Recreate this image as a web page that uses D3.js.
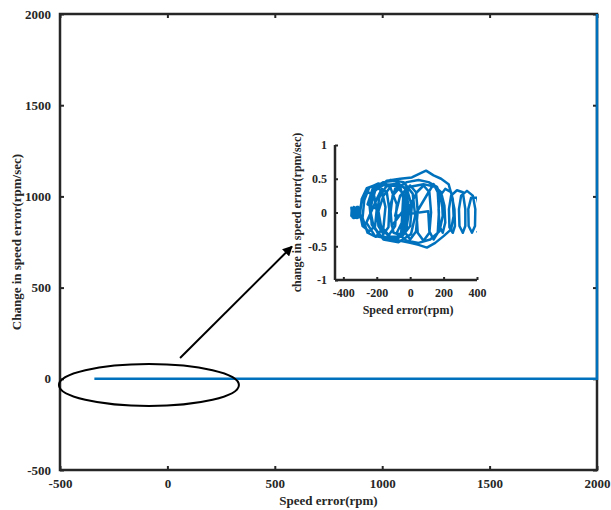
<!DOCTYPE html>
<html>
<head>
<meta charset="utf-8">
<script src="https://cdn.jsdelivr.net/npm/d3@7"></script>
<style>
  body { margin: 0; background: #fff; }
  text { font-family: "Liberation Serif", "Times New Roman", serif; font-weight: bold; fill: #262626; }
</style>
</head>
<body>
<svg id="svg" width="611" height="510"></svg>
<script>
// main plot data
const mainX = [-340, 2000, 2000];
const mainY = [0, 0, 2000];
const mainTicksX = [-500, 0, 500, 1000, 1500, 2000];
const mainTicksY = [-500, 0, 500, 1000, 1500, 2000];

// inset (zoomed) phase trajectory
const insetX = [
  -345, -330, -315, -325, -345, -335, -305, -310, -340, -350,
  -350, -340, -320, -300, -330, -348, -315, -305, -335, -345,
  -352, -345, -338, -332, -325, -318, -312, -306, -300, -306, -314, -322, -330, -338, -346, -352,
  -350, -343, -336, -328, -320, -312, -304, -310, -318, -326, -334, -342,
  -300, -285, -250, -215, -200, -210, -245, -285, -300,
  -290, -260, -215, -170, -148, -160, -205, -255, -285,
  -275, -245, -190, -120, -80, -90, -140, -210, -262,
  -200, -170, -140, -125, -130, -160, -190, -198,
  -255, -225, -160, -90, -30, -5, -25, -90, -170, -230,
  -240, -215, -150, -80, -25, -15, -40, -110, -190, -235,
  -245, -200, -120, -40, 15, 30, 5, -70, -160, -220,
  -240, -210, -140, -60, 10, 60, 95, 140, 185, 230, 255, 260, 245, 200, 150, 100, 50, 0, -60, -130, -180, -195,
  -185, -140, -80, -20, 10, 0, -50, -120, -175, -190,
  -160, -110, -60, -35, -35, -60, -100, -120, -105, -70, -40, -20, -25, -55,
  -40, 0, 35, 45, 35, 0, -35, -45,
  -110, -120, -90, -20, 50, 110, 160, 190, 195, 175, 120, 50, -20, -80,
  40, 80, 115, 125, 115, 80, 45, 38,
  110, 140, 165, 172, 165, 140, 115, 108,
  -90, -60, 0, 80, 150, 185, 205, 210, 195, 175, 170, 180, 210, 245, 265, 268, 255, 235,
  232, 245, 280, 315, 330, 330, 315, 295, 292, 305, 340, 375, 390, 388, 370, 350,
  348, 365, 400, 420, 415, 400
];
const insetY = [
  0.02, 0.07, 0.03, -0.06, -0.04, 0.06, 0.05, -0.05, -0.07, 0.0,
  0.05, -0.08, 0.08, -0.06, 0.05, -0.05, -0.08, 0.07, 0.04, -0.03,
  0.07, -0.07, 0.08, -0.08, 0.07, -0.07, 0.08, -0.07, 0.06, -0.06, 0.08, -0.08, 0.07, -0.08, 0.06, -0.05,
  0.04, -0.04, 0.05, -0.05, 0.04, -0.04, 0.03, -0.03, 0.05, -0.05, 0.03, -0.02,
  0.05, 0.22, 0.30, 0.24, 0.05, -0.20, -0.28, -0.20, -0.02,
  0.20, 0.36, 0.40, 0.32, 0.08, -0.22, -0.36, -0.30, -0.08,
  0.18, 0.37, 0.43, 0.38, 0.12, -0.20, -0.38, -0.35, -0.15,
  0.20, 0.35, 0.30, 0.05, -0.22, -0.32, -0.20, 0.05,
  0.12, 0.35, 0.45, 0.47, 0.35, 0.05, -0.28, -0.42, -0.37, -0.18,
  0.10, 0.33, 0.42, 0.40, 0.22, -0.05, -0.30, -0.40, -0.33, -0.10,
  0.15, 0.38, 0.48, 0.45, 0.28, -0.05, -0.32, -0.44, -0.40, -0.20,
  0.05, 0.32, 0.47, 0.50, 0.52, 0.58, 0.62, 0.55, 0.50, 0.42, 0.20, -0.05, -0.25, -0.35, -0.45, -0.52, -0.48, -0.45, -0.42, -0.35, -0.20, 0.05,
  0.22, 0.40, 0.43, 0.35, 0.10, -0.20, -0.36, -0.36, -0.20, 0.02,
  0.25, 0.40, 0.38, 0.15, -0.15, -0.33, -0.30, -0.05, 0.25, 0.35, 0.28, 0.05, -0.20, -0.35,
  0.30, 0.40, 0.30, 0.02, -0.28, -0.40, -0.28, 0.02,
  -0.20, 0.10, 0.35, 0.45, 0.48, 0.45, 0.38, 0.20, -0.05, -0.28, -0.40, -0.45, -0.42, -0.30,
  0.30, 0.40, 0.30, 0.00, -0.30, -0.42, -0.30, 0.00,
  0.30, 0.42, 0.30, 0.00, -0.30, -0.40, -0.28, 0.02,
  -0.05, 0.25, 0.38, 0.42, 0.38, 0.30, 0.10, -0.15, -0.30, -0.20, 0.05, 0.25, 0.35, 0.30, 0.05, -0.20, -0.30, -0.22,
  0.05, 0.25, 0.33, 0.30, 0.05, -0.20, -0.30, -0.20, 0.05, 0.25, 0.32, 0.25, 0.05, -0.20, -0.30, -0.20,
  0.05, 0.22, 0.22, 0.00, -0.25, -0.30
];
const insetTicksX = [-400, -200, 0, 200, 400];
const insetTicksY = [-1, -0.5, 0, 0.5, 1];

const axisCol = '#262626';
const lineCol = '#0072BD';
const svg = d3.select('#svg');
const fmt = d => String(d);   // plain hyphen minus like the original

// ---------- main axes ----------
const x = d3.scaleLinear().domain([-500, 2000]).range([60, 597]);
const y = d3.scaleLinear().domain([-500, 2000]).range([470, 14]);

const main = svg.append('g');

main.append('g')
  .attr('transform', `translate(0,${y(-500)})`)
  .call(d3.axisBottom(x).tickValues(mainTicksX).tickSize(-4).tickPadding(9).tickFormat(fmt))
  .call(g => g.select('.domain').remove())
  .call(g => g.selectAll('line').attr('stroke', axisCol).attr('stroke-width', 2))
  .call(g => g.selectAll('text').style('font-size', '13px').attr('fill', axisCol));

main.append('g')
  .attr('transform', `translate(${x(-500)},0)`)
  .call(d3.axisLeft(y).tickValues(mainTicksY).tickSize(-4).tickPadding(9).tickFormat(fmt))
  .call(g => g.select('.domain').remove())
  .call(g => g.selectAll('line').attr('stroke', axisCol).attr('stroke-width', 2))
  .call(g => g.selectAll('text').style('font-size', '13px').attr('fill', axisCol));

// top and right tick marks
main.append('g')
  .attr('transform', `translate(0,${y(2000)})`)
  .call(d3.axisTop(x).tickValues(mainTicksX).tickSize(-4).tickFormat(''))
  .call(g => g.select('.domain').remove())
  .call(g => g.selectAll('line').attr('stroke', axisCol).attr('stroke-width', 2));
main.append('g')
  .attr('transform', `translate(${x(2000)},0)`)
  .call(d3.axisRight(y).tickValues(mainTicksY).tickSize(-4).tickFormat(''))
  .call(g => g.select('.domain').remove())
  .call(g => g.selectAll('line').attr('stroke', axisCol).attr('stroke-width', 2));

// frame
main.append('rect')
  .attr('x', x(-500)).attr('y', y(2000))
  .attr('width', x(2000) - x(-500)).attr('height', y(-500) - y(2000))
  .attr('fill', 'none').attr('stroke', axisCol).attr('stroke-width', 2.5);

const mainLine = d3.line().x(d => x(d[0])).y(d => y(d[1]));
main.append('path')
  .datum(d3.zip(mainX, mainY))
  .attr('d', mainLine)
  .attr('fill', 'none').attr('stroke', lineCol).attr('stroke-width', 2.5);

main.append('text')
  .attr('x', (x(-500) + x(2000)) / 2).attr('y', 505)
  .attr('text-anchor', 'middle').style('font-size', '13px')
  .text('Speed error(rpm)');
main.append('text')
  .attr('transform', `translate(21,${(y(-500) + y(2000)) / 2}) rotate(-90)`)
  .attr('text-anchor', 'middle').style('font-size', '13px')
  .text('Change in speed error(rpm/sec)');

// ellipse annotation and arrow
main.append('ellipse')
  .attr('cx', x(-86)).attr('cy', y(-34))
  .attr('rx', x(-86 + 419) - x(-86)).attr('ry', y(-34 - 115) - y(-34))
  .attr('fill', 'none').attr('stroke', '#000').attr('stroke-width', 2);

svg.append('defs').append('marker')
  .attr('id', 'head').attr('viewBox', '0 0 10 10')
  .attr('refX', 9).attr('refY', 5)
  .attr('markerWidth', 5).attr('markerHeight', 5)
  .attr('orient', 'auto')
  .append('path').attr('d', 'M0,0 L10,5 L0,10 z').attr('fill', '#000');

main.append('line')
  .attr('x1', x(59)).attr('y1', y(114))
  .attr('x2', x(580)).attr('y2', y(725))
  .attr('stroke', '#000').attr('stroke-width', 2)
  .attr('marker-end', 'url(#head)');

// ---------- inset ----------
const ix = d3.scaleLinear().domain([-450, 400]).range([335, 477]);
const iy = d3.scaleLinear().domain([-1, 1]).range([280, 145]);

const inset = svg.append('g');

svg.select('defs').append('clipPath').attr('id', 'insetClip')
  .append('rect')
  .attr('x', ix(-450)).attr('y', iy(1))
  .attr('width', ix(400) - ix(-450)).attr('height', iy(-1) - iy(1));

inset.append('path')
  .datum(d3.zip(insetX, insetY))
  .attr('d', d3.line().x(d => ix(d[0])).y(d => iy(d[1])))
  .attr('clip-path', 'url(#insetClip)')
  .attr('fill', 'none').attr('stroke', lineCol).attr('stroke-width', 2.5)
  .attr('stroke-linejoin', 'round');

inset.append('g')
  .attr('transform', `translate(0,${iy(-1)})`)
  .call(d3.axisBottom(ix).tickValues(insetTicksX).tickSize(-3).tickPadding(8).tickFormat(fmt))
  .call(g => g.select('.domain').attr('stroke', axisCol).attr('stroke-width', 2.5).attr('d', `M${ix(-450)},0H${ix(400)}`))
  .call(g => g.selectAll('line').attr('stroke', axisCol).attr('stroke-width', 2))
  .call(g => g.selectAll('text').style('font-size', '12px').attr('fill', axisCol));

inset.append('g')
  .attr('transform', `translate(${ix(-450)},0)`)
  .call(d3.axisLeft(iy).tickValues(insetTicksY).tickSize(-3).tickPadding(8).tickFormat(fmt))
  .call(g => g.select('.domain').attr('stroke', axisCol).attr('stroke-width', 2.5).attr('d', `M0,${iy(1)}V${iy(-1)}`))
  .call(g => g.selectAll('line').attr('stroke', axisCol).attr('stroke-width', 2))
  .call(g => g.selectAll('text').style('font-size', '12px').attr('fill', axisCol));

inset.append('text')
  .attr('x', (ix(-450) + ix(400)) / 2 + 2).attr('y', 314)
  .attr('text-anchor', 'middle').style('font-size', '12px')
  .text('Speed error(rpm)');
inset.append('text')
  .attr('transform', `translate(301,${(iy(-1) + iy(1)) / 2}) rotate(-90)`)
  .attr('text-anchor', 'middle').style('font-size', '12px')
  .text('change in speed error(rpm/sec)');
</script>
</body>
</html>
